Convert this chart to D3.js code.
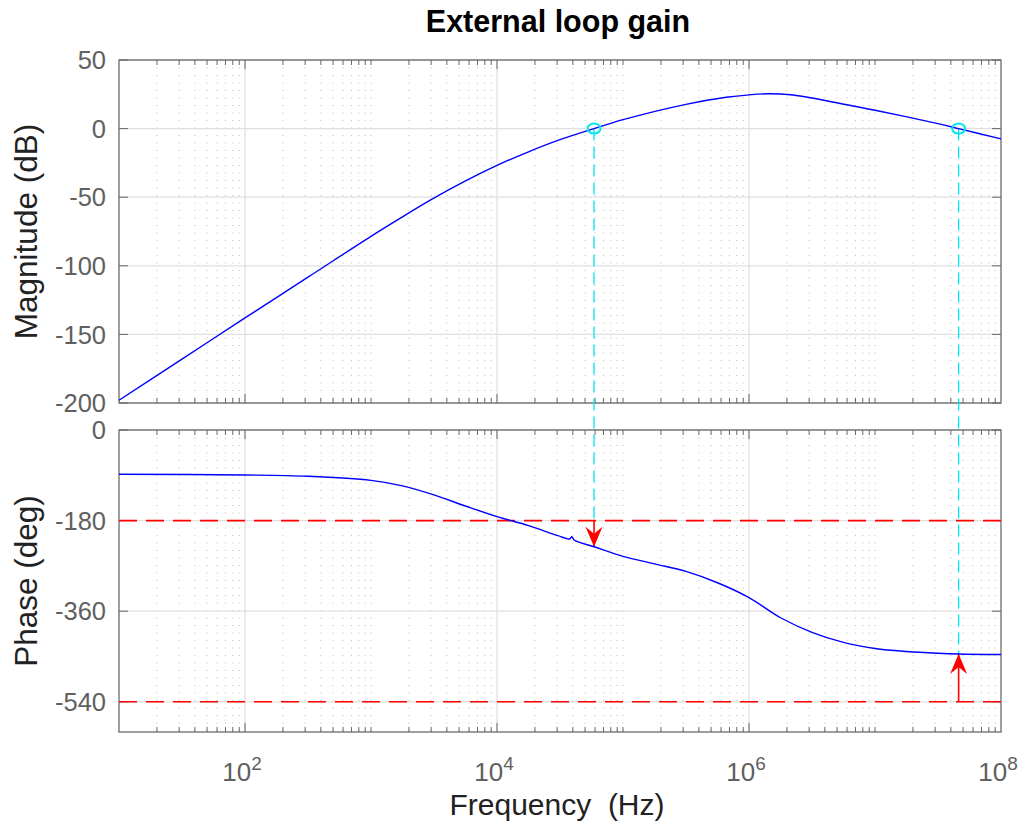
<!DOCTYPE html>
<html>
<head>
<meta charset="utf-8">
<script src="https://cdn.jsdelivr.net/npm/d3@7"></script>
<style>
  body { margin: 0; background: #fff; }
  text { font-family: "Liberation Sans", Arial, Helvetica, sans-serif; }
</style>
</head>
<body>
<div id="viz-container"></div>
<script>
let w = 1025;
let h = 825;

///////////////////////////////////////////////////////////////////////////
// DATA

// magnitude curve (Hz, dB)
let magFreq = [1e1, 3.16e1, 1e2, 3.16e2, 1e3, 1.78e3, 3e3, 5.62e3, 1e4, 1.78e4, 3.16e4, 5.89e4,
               1e5, 3.16e5, 6.6e5, 1e6, 1.41e6, 1.78e6, 2.24e6, 3.16e6, 6.3e6, 1e7, 3.16e7, 4.61e7, 1e8];
let magDb   = [-198, -168, -138, -108.3, -78.5, -64.3, -51.8, -38.1, -26.8, -16.9, -8.1, 0,
               6.5, 17.7, 22.8, 24.6, 25.4, 25.2, 24.5, 22.3, 17, 13.4, 3.6, 0, -7.5];

// phase curve (Hz, deg)
let phaseFreq = [1e1, 1e2, 3.16e2, 1e3, 1.78e3, 3.16e3, 5.62e3, 1e4, 1.78e4, 3.05e4,
                 3.76e4, 3.93e4, 4.09e4, 5.89e4, 1e5, 1.78e5, 3.16e5, 5.62e5, 1e6,
                 1.78e6, 3.16e6, 5.62e6, 1e7, 1.78e7, 3.16e7, 4.61e7, 1e8];
let phaseDeg  = [-88, -89.4, -92, -100, -111, -129, -151, -172, -190, -210,
                 -216.5, -212, -218.5, -232, -251, -266, -281, -303.5, -333,
                 -373, -402, -422, -434, -440, -443.5, -445, -446];

// gain crossover points, phase at those points, and the reference levels
let crossFreq  = [5.89e4, 4.61e7];
let crossPhase = [-232, -445];
let refPhase   = [-180, -540];

// ticks
let magTicks   = [50, 0, -50, -100, -150, -200];
let phaseTicks = [0, -180, -360, -540];
let freqTicks  = [1e2, 1e4, 1e6, 1e8];

///////////////////////////////////////////////////////////////////////////
// SCALES

let x = d3.scaleLog().domain([1e1, 1e8]).range([119, 1001]);
let yMag = d3.scaleLinear().domain([-200, 50]).range([403, 60]);
let yPh = d3.scaleLinear().domain([-600, 0]).range([732, 430]);

let viz = d3.select("#viz-container")
              .append("svg")
                .attr("width", w)
                .attr("height", h)
;

// minor ticks: 1..9 in every decade except the labelled (even) decades
let minorTicks = [];
for (let e = 1; e < 8; e++) {
  for (let m = 1; m < 10; m++) {
    let v = m * Math.pow(10, e);
    if (m == 1 && e % 2 == 0) continue;
    if (m == 1 && e == 1) continue;
    minorTicks.push(v);
  }
}
let majorX = [1e2, 1e4, 1e6];

///////////////////////////////////////////////////////////////////////////
// one panel (grid, box, ticks)

function drawPanel(y, yTicks) {
  let top = y.range()[1];
  let bottom = y.range()[0];
  let left = x.range()[0];
  let right = x.range()[1];
  let g = viz.append("g");

  // minor grid, dotted
  g.selectAll(".minorgrid").data(minorTicks).enter()
    .append("line")
      .attr("x1", d => x(d)).attr("x2", d => x(d))
      .attr("y1", top).attr("y2", bottom)
      .attr("stroke", "#bdbdbd")
      .attr("stroke-width", 1)
      .attr("stroke-dasharray", "1,6.5");

  // major grid
  g.selectAll(".majorx").data(majorX).enter()
    .append("line")
      .attr("x1", d => x(d)).attr("x2", d => x(d))
      .attr("y1", top).attr("y2", bottom)
      .attr("stroke", "#e0e0e0")
      .attr("stroke-width", 1.3);

  g.selectAll(".majory").data(yTicks).enter()
    .append("line")
      .attr("x1", left).attr("x2", right)
      .attr("y1", d => y(d)).attr("y2", d => y(d))
      .attr("stroke", "#e0e0e0")
      .attr("stroke-width", 1.3);

  // ticks on all four sides
  let tickColor = "#666";
  [top, bottom].forEach(function(edge) {
    let dir = edge == top ? 1 : -1;
    g.selectAll(".tmin").data(minorTicks).enter()
      .append("line")
        .attr("x1", d => x(d)).attr("x2", d => x(d))
        .attr("y1", edge).attr("y2", edge + dir * 5)
        .attr("stroke", tickColor);
    g.selectAll(".tmaj").data(majorX).enter()
      .append("line")
        .attr("x1", d => x(d)).attr("x2", d => x(d))
        .attr("y1", edge).attr("y2", edge + dir * 9)
        .attr("stroke", tickColor);
  });
  [left, right].forEach(function(edge) {
    let dir = edge == left ? 1 : -1;
    g.selectAll(".ty").data(yTicks).enter()
      .append("line")
        .attr("x1", edge).attr("x2", edge + dir * 9)
        .attr("y1", d => y(d)).attr("y2", d => y(d))
        .attr("stroke", tickColor);
  });

  // box
  g.append("rect")
    .attr("x", left).attr("y", top)
    .attr("width", right - left).attr("height", bottom - top)
    .attr("fill", "none")
    .attr("stroke", "#6a6a6a")
    .attr("stroke-width", 1.3);

  // y tick labels
  g.selectAll(".ylab").data(yTicks).enter()
    .append("text")
      .attr("x", 106)
      .attr("y", d => y(d))
      .attr("dy", "0.36em")
      .attr("text-anchor", "end")
      .attr("font-size", 25.5)
      .attr("fill", "#606060")
      .text(d => d);

  return g;
}

drawPanel(yMag, magTicks);
drawPanel(yPh, phaseTicks);

///////////////////////////////////////////////////////////////////////////
// reference lines and margin markers

viz.selectAll(".ref").data(refPhase).enter()
  .append("line")
    .attr("x1", x.range()[0]).attr("x2", x.range()[1])
    .attr("y1", d => yPh(d)).attr("y2", d => yPh(d))
    .attr("stroke", "#ff0000")
    .attr("stroke-width", 1.6)
    .attr("stroke-dasharray", "18,9");

// cyan dashed drops from the 0 dB crossings, down to whichever of
// the reference line / the curve comes first
viz.selectAll(".drop").data(crossFreq).enter()
  .append("line")
    .attr("x1", d => x(d)).attr("x2", d => x(d))
    .attr("y1", yMag(0))
    .attr("y2", (d, i) => yPh(Math.max(crossPhase[i], refPhase[i])))
    .attr("stroke", "#00e5ee")
    .attr("stroke-width", 1.3)
    .attr("stroke-dasharray", "12,6");

// red arrows: from the reference level to the curve
function arrowHead(d, i) {
  let xx = x(d);
  let tip = yPh(crossPhase[i]);
  let base = yPh(refPhase[i]);
  let dir = tip > base ? 1 : -1;   // 1 = pointing down
  return "M" + xx + "," + tip +
         " L" + (xx - 8.5) + "," + (tip - dir * 20) +
         " L" + xx + "," + (tip - dir * 13) +
         " L" + (xx + 8.5) + "," + (tip - dir * 20) + " Z";
}

viz.selectAll(".arrowline").data(crossFreq).enter()
  .append("line")
    .attr("x1", d => x(d)).attr("x2", d => x(d))
    .attr("y1", (d, i) => yPh(refPhase[i]))
    .attr("y2", (d, i) => yPh(crossPhase[i]))
    .attr("stroke", "#ff0000")
    .attr("stroke-width", 1.6);

viz.selectAll(".arrowhead").data(crossFreq).enter()
  .append("path")
    .attr("d", arrowHead)
    .attr("fill", "#ff0000");

///////////////////////////////////////////////////////////////////////////
// curves

let magLine = d3.line()
  .x((d, i) => x(magFreq[i]))
  .y(d => yMag(d))
  .curve(d3.curveCatmullRom.alpha(0.5));

let phLine = d3.line()
  .x((d, i) => x(phaseFreq[i]))
  .y(d => yPh(d))
  .curve(d3.curveCatmullRom.alpha(0.5));

viz.append("path")
  .attr("d", magLine(magDb))
  .attr("fill", "none")
  .attr("stroke", "#0000ff")
  .attr("stroke-width", 1.4);

viz.append("path")
  .attr("d", phLine(phaseDeg))
  .attr("fill", "none")
  .attr("stroke", "#0000ff")
  .attr("stroke-width", 1.4);

// crossing markers
viz.selectAll(".cross").data(crossFreq).enter()
  .append("ellipse")
    .attr("cx", d => x(d))
    .attr("cy", yMag(0))
    .attr("rx", 6.5)
    .attr("ry", 5)
    .attr("fill", "none")
    .attr("stroke", "#00e5ee")
    .attr("stroke-width", 2);

///////////////////////////////////////////////////////////////////////////
// x tick labels (10^n) and titles

let xl = viz.selectAll(".xlab").data(freqTicks).enter()
  .append("text")
    .attr("x", d => x(d) - 3)
    .attr("y", 781)
    .attr("text-anchor", "middle")
    .attr("font-size", 26)
    .attr("fill", "#606060");
xl.append("tspan").text("10");
xl.append("tspan")
    .attr("font-size", 19)
    .attr("dy", -11)
    .text(d => Math.round(Math.log10(d)));

viz.append("text")
  .attr("x", 558)
  .attr("y", 32)
  .attr("text-anchor", "middle")
  .attr("font-size", 30.5)
  .attr("font-weight", "bold")
  .attr("fill", "#000")
  .text("External loop gain");

viz.append("text")
  .attr("x", 557)
  .attr("y", 815)
  .attr("text-anchor", "middle")
  .attr("font-size", 30)
  .attr("fill", "#222")
  .style("white-space", "pre")
  .text("Frequency  (Hz)");

viz.append("text")
  .attr("transform", "translate(37," + (yMag(-75)) + ") rotate(-90)")
  .attr("text-anchor", "middle")
  .attr("font-size", 31.5)
  .attr("fill", "#222")
  .text("Magnitude (dB)");

viz.append("text")
  .attr("transform", "translate(37," + (yPh(-300)) + ") rotate(-90)")
  .attr("text-anchor", "middle")
  .attr("font-size", 31.5)
  .attr("fill", "#222")
  .text("Phase (deg)");
</script>
</body>
</html>
